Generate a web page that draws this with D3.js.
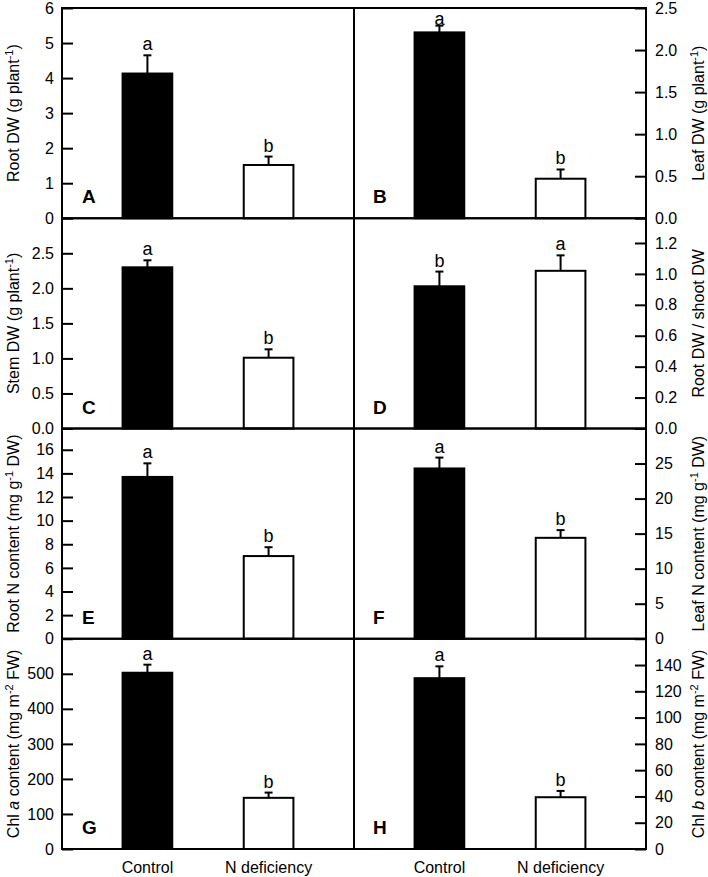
<!DOCTYPE html>
<html>
<head>
<meta charset="utf-8">
<script src="https://cdn.jsdelivr.net/npm/d3@7"></script>
<style>
  body { margin: 0; background: #fff; }
  svg { display: block; font-family: "Liberation Sans", Arial, sans-serif; }
</style>
</head>
<body>
<svg id="chart" width="708" height="877"></svg>
<script>
// Chart data
const categories = ["Control", "N deficiency"];
const panelLetters = ["A", "B", "C", "D", "E", "F", "G", "H"];
const controlMeans = [4.13, 2.21, 2.30, 0.92, 13.7, 24.3, 503, 130];
const deficiencyMeans = [1.52, 0.47, 1.01, 1.02, 7.0, 14.4, 146, 39.4];
const controlSE = [0.52, 0.08, 0.10, 0.095, 1.15, 1.55, 23, 9];
const deficiencySE = [0.24, 0.11, 0.12, 0.10, 0.75, 1.1, 15, 4.8];
const controlGroups = ["a", "a", "a", "b", "a", "a", "a", "a"];
const deficiencyGroups = ["b", "b", "b", "a", "b", "b", "b", "b"];

// y axes
const yMax = [6, 2.5, 3, 1.36, 17.8, 30, 600, 160];
const yTicks = [
    [0, 1, 2, 3, 4, 5, 6],
    [0, 0.5, 1, 1.5, 2, 2.5],
    [0, 0.5, 1, 1.5, 2, 2.5],
    [0, 0.2, 0.4, 0.6, 0.8, 1, 1.2],
    [0, 2, 4, 6, 8, 10, 12, 14, 16],
    [0, 5, 10, 15, 20, 25],
    [0, 100, 200, 300, 400, 500],
    [0, 20, 40, 60, 80, 100, 120, 140]
];
const tickDecimals = [0, 1, 1, 1, 0, 0, 0, 0];

// axis titles: plain text, {sup: ...} superscript, {it: ...} italic
const yTitles = [
    ["Root DW (g plant", {sup: "-1"}, ")"],
    ["Leaf DW (g plant", {sup: "-1"}, ")"],
    ["Stem DW (g plant", {sup: "-1"}, ")"],
    ["Root DW / shoot DW"],
    ["Root N content (mg g", {sup: "-1"}, " DW)"],
    ["Leaf N content (mg g", {sup: "-1"}, " DW)"],
    ["Chl ", {it: "a"}, " content (mg m", {sup: "-2"}, " FW)"],
    ["Chl ", {it: "b"}, " content (mg m", {sup: "-2"}, " FW)"]
];

// Layout
const top0 = 8;
const panelH = 210.25;
const colX = [[62, 354], [354, 646]];

const svg = d3.select("#chart");

panelLetters.forEach((letter, i) => {
    const row = Math.floor(i / 2);
    const col = i % 2;
    const x0 = colX[col][0], x1 = colX[col][1];
    const y0 = top0 + row * panelH, y1 = y0 + panelH;

    const x = d3.scaleBand()
        .domain(categories)
        .range([x0, x1])
        .paddingInner(0.59)
        .paddingOuter(0.5);

    const y = d3.scaleLinear()
        .domain([0, yMax[i]])
        .range([y1, y0]);

    const g = svg.append("g");

    const bars = [
        {cat: categories[0], mean: controlMeans[i], se: controlSE[i], grp: controlGroups[i], fill: "#000"},
        {cat: categories[1], mean: deficiencyMeans[i], se: deficiencySE[i], grp: deficiencyGroups[i], fill: "#fff"}
    ];

    // error bars (upper only) and group letters
    bars.forEach(d => {
        const cx = x(d.cat) + x.bandwidth() / 2;
        g.append("line")
            .attr("x1", cx).attr("x2", cx)
            .attr("y1", y(d.mean)).attr("y2", y(d.mean + d.se))
            .attr("stroke", "#000").attr("stroke-width", 2);
        g.append("line")
            .attr("x1", cx - 4).attr("x2", cx + 4)
            .attr("y1", y(d.mean + d.se)).attr("y2", y(d.mean + d.se))
            .attr("stroke", "#000").attr("stroke-width", 2);
        g.append("text")
            .attr("x", cx)
            .attr("y", Math.max(y(d.mean + d.se) - 5, y0 + 17))
            .attr("text-anchor", "middle")
            .attr("font-size", 18)
            .text(d.grp);
    });

    g.selectAll("rect.bar")
        .data(bars)
        .enter()
        .append("rect")
        .attr("class", "bar")
        .attr("x", d => x(d.cat))
        .attr("y", d => y(d.mean))
        .attr("width", x.bandwidth())
        .attr("height", d => y(0) - y(d.mean))
        .attr("fill", d => d.fill)
        .attr("stroke", "#000")
        .attr("stroke-width", 2);

    // y axis with inward ticks
    const fmt = d3.format("." + tickDecimals[i] + "f");
    const axis = (col === 0 ? d3.axisLeft(y) : d3.axisRight(y))
        .tickValues(yTicks[i])
        .tickFormat(fmt)
        .tickSize(-11)
        .tickPadding(col === 0 ? 8 : 9);

    const ax = g.append("g")
        .attr("transform", `translate(${col === 0 ? x0 : x1},0)`)
        .call(axis);
    ax.select(".domain").remove();
    ax.selectAll(".tick line").attr("stroke-width", 2);
    ax.selectAll(".tick text")
        .attr("font-size", 16)
        .attr("font-family", "'Liberation Sans', Arial, sans-serif")
        .attr("fill", "#000");

    // panel box
    g.append("rect")
        .attr("x", x0).attr("y", y0)
        .attr("width", x1 - x0).attr("height", y1 - y0)
        .attr("fill", "none")
        .attr("stroke", "#000")
        .attr("stroke-width", 2);

    // panel letter
    g.append("text")
        .attr("x", col === 0 ? 82 : 373)
        .attr("y", y1 - 15)
        .attr("font-size", 19)
        .attr("font-weight", "bold")
        .text(letter);

    // axis title
    const tx = col === 0 ? 19 : 704;
    const title = g.append("text")
        .attr("transform", `translate(${tx},${(y0 + y1) / 2}) rotate(-90)`)
        .attr("text-anchor", "middle")
        .attr("font-size", 16);
    let shift = 0;
    yTitles[i].forEach(part => {
        if (typeof part === "string") {
            title.append("tspan").attr("dy", -shift).text(part);
            shift = 0;
        } else if (part.sup) {
            title.append("tspan").attr("dy", -6).attr("font-size", 11).text(part.sup);
            shift = -6;
        } else if (part.it) {
            title.append("tspan").attr("dy", -shift).attr("font-style", "italic").text(part.it);
            shift = 0;
        }
    });

    // category labels on bottom row
    if (row === 3) {
        categories.forEach(c => {
            g.append("text")
                .attr("x", x(c) + x.bandwidth() / 2)
                .attr("y", 873)
                .attr("text-anchor", "middle")
                .attr("font-size", 16)
                .text(c);
        });
    }
});
</script>
</body>
</html>
